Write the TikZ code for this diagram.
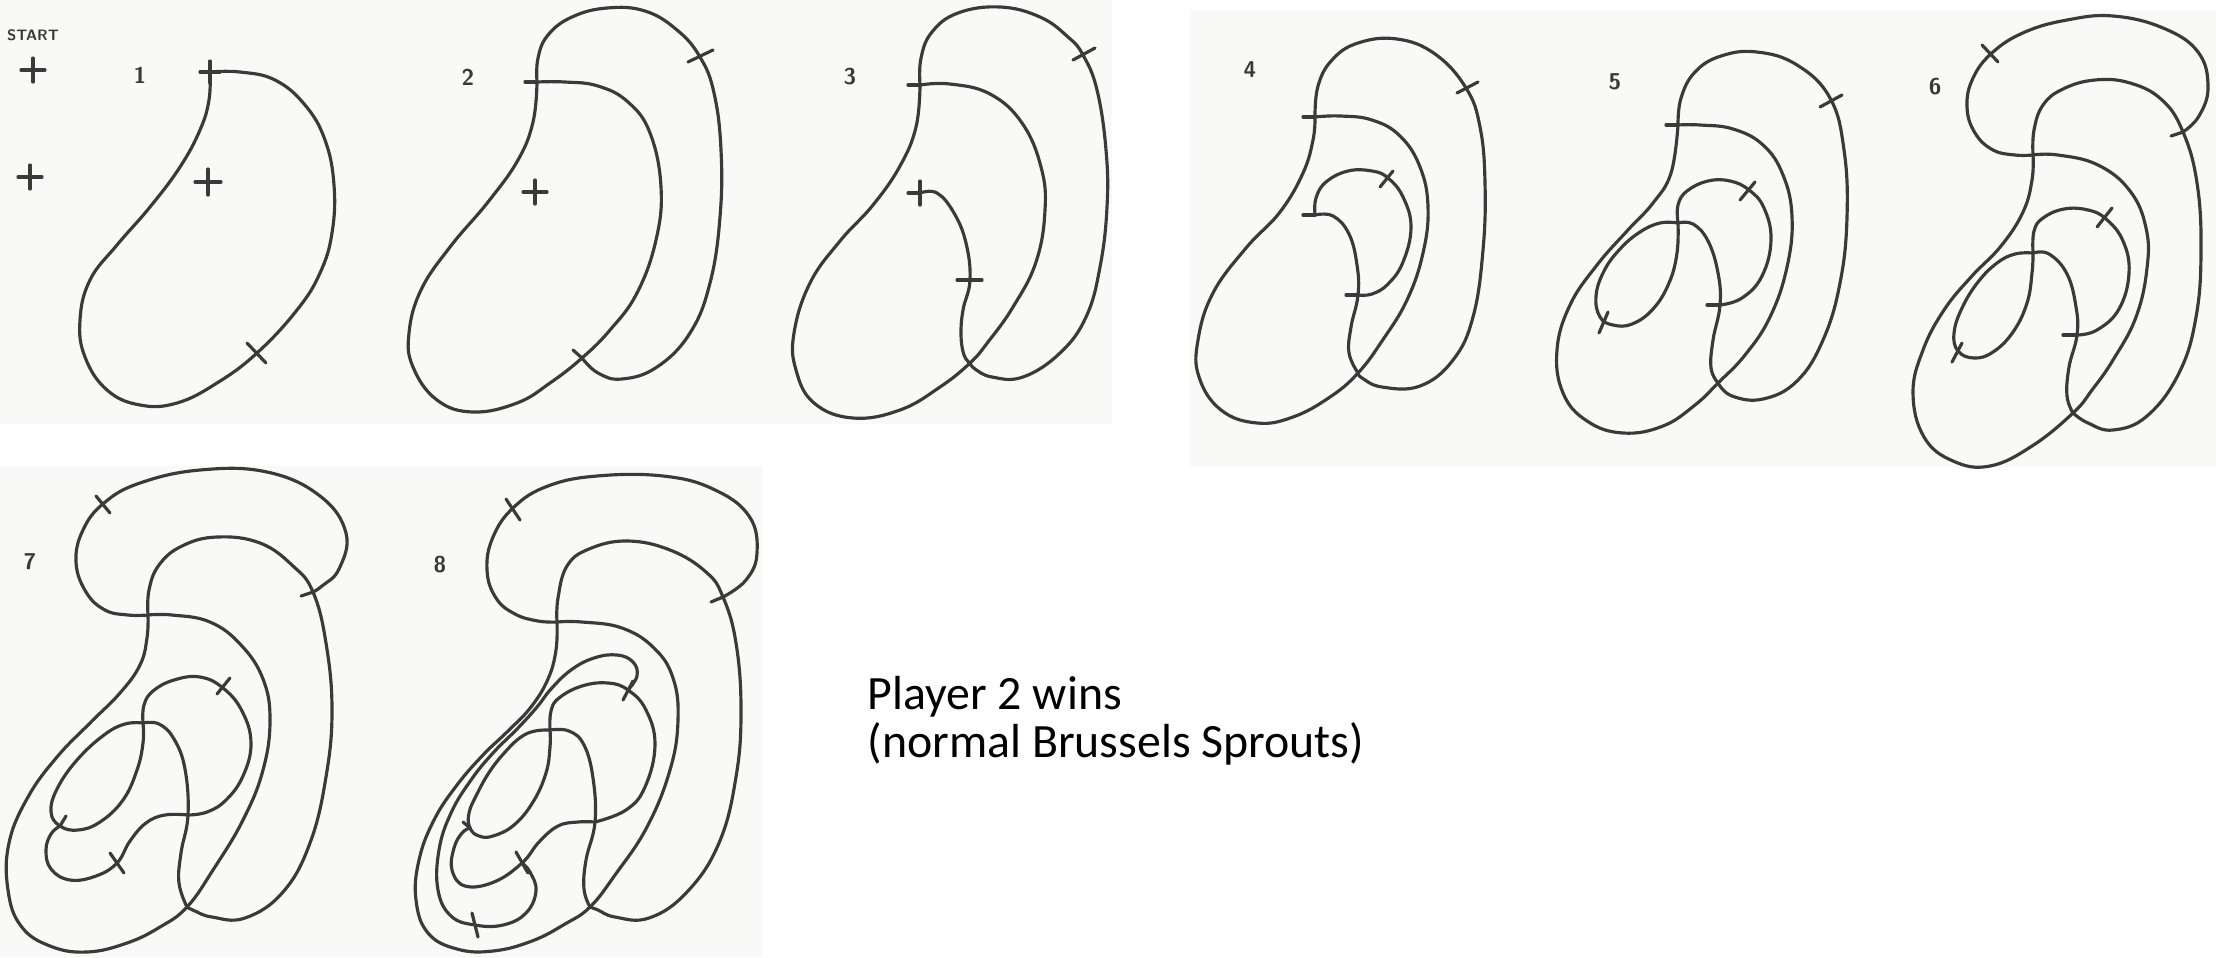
\documentclass[tikz,border=0pt]{standalone}
\usepackage{fontspec}
\setmainfont{Carlito}
\definecolor{ink}{HTML}{3A3A3A}
\definecolor{scan}{HTML}{F9F9F7}
\tikzset{
  pen/.style={ink, line width=0.9pt, line cap=round, line join=round},
  sprout/.style={pen, smooth, tension=0.7},
  num/.style={text=ink, inner sep=0pt, font=\sffamily\bfseries\fontsize{6.5}{7}\selectfont},
}

\begin{document}
\begin{tikzpicture}[x=0.01cm, y=-0.01cm]
  \useasboundingbox (0,0) rectangle (2216,957);
  %scanned sheets
  \fill[scan] (0,0) rectangle (1112,424);
  \fill[scan] (0,466) rectangle (763,957);
  \fill[scan] (1190,10) rectangle (2216,467);

  %start
  \node[num, font=\sffamily\bfseries\fontsize{4.3}{5}\selectfont] (start) at (33,35) {START};
  \draw[pen] (33,70) +(-12,0) -- +(12,0) +(0,-12) -- +(0,12);
  \draw[pen] (30,177) +(-12,0) -- +(12,0) +(0,-12) -- +(0,12);

  %move 1
  \node[num] (n1) at (140,75) {1};
  \draw[pen] (210,72) +(-10,0) -- +(10,0) +(0,-11) -- +(0,11);
  \draw[sprout] plot coordinates {(210,72) (240,72) (275,80) (305,105) (325,140) (334,185) (332,233) (320,273) (297,310) (257,353) (217,383) (177,403) (140,405) (107,390) (85,357) (80,320) (90,280) (117,245) (150,207) (180,167) (200,130) (209,100) (210,72)};
  \draw[pen] (247,343) -- (266,363);
  \draw[pen] (208,182) +(-13,0) -- +(13,0) +(0,-13) -- +(0,13);

  %move 2
  \node[num] (n2) at (468,77) {2};
  \draw[pen] (525,82) -- (537,82);
  \draw[sprout] plot coordinates {(537,82) (565,82) (598,86) (628,102) (650,133) (661,187) (656,240) (637,293) (610,330) (582,358) (550,383) (517,403) (473,412) (437,400) (413,367) (409,333) (421,290) (450,247) (488,202) (518,160) (533,122) (537,82)};
  \draw[sprout] plot coordinates {(537,82) (538,58) (548,35) (572,17) (607,8) (645,11) (677,30) (700,57) (714,93) (721,150) (720,217) (710,283) (690,333) (657,367) (622,379) (598,373) (582,358)};
  \draw[pen] (573,350) -- (582,358);
  \draw[pen] (688,62) -- (713,50);
  \draw[pen] (535,192) +(-12,0) -- +(12,0) +(0,-12) -- +(0,12);

  %move 3
  \node[num] (n3) at (850,77) {3};
  \draw[pen] (908,85) -- (920,85);
  \draw[sprout] plot coordinates {(920,85) (950,84) (990,94) (1022,123) (1041,167) (1045,210) (1036,262) (1013,307) (988,342) (970,363) (940,387) (900,410) (853,418) (814,403) (796,370) (794,333) (810,283) (840,241) (873,205) (900,166) (916,127) (920,85)};
  \draw[sprout] plot coordinates {(920,85) (921,58) (932,32) (958,13) (1000,7) (1040,17) (1068,37) (1083,55) (1097,90) (1106,150) (1107,207) (1100,267) (1086,317) (1060,353) (1023,377) (992,377) (975,369) (970,363)};
  \draw[sprout] plot coordinates {(920,193) (937,193) (954,213) (966,243) (970,280) (963,310) (961,335) (964,355) (970,363)};
  \draw[pen] (920,193) +(-12,0) -- +(0,0) +(0,-12) -- +(0,12);
  \draw[pen] (957,280) -- (982,280);
  \draw[pen] (1073,60) -- (1095,48);

  %move 4
  \node[num] (n4) at (1250,70) {4};
  \draw[pen] (1303,117) -- (1315,117);
  \draw[sprout] plot coordinates {(1315,117) (1340,116) (1372,120) (1400,136) (1420,167) (1428,207) (1423,253) (1407,300) (1382,341) (1358,373) (1330,397) (1293,417) (1257,423) (1221,410) (1199,377) (1198,340) (1213,293) (1246,248) (1280,212) (1303,173) (1313,140) (1315,117)};
  \draw[sprout] plot coordinates {(1315,117) (1318,86) (1332,60) (1358,43) (1397,39) (1435,54) (1466,88) (1480,127) (1485,183) (1483,250) (1473,317) (1453,360) (1420,386) (1382,387) (1362,378) (1358,373)};
  \draw[sprout] plot coordinates {(1315,215) (1333,216) (1349,234) (1357,265) (1358,295) (1351,327) (1349,353) (1358,373)};
  \draw[sprout] plot coordinates {(1315,215) (1316,198) (1326,182) (1348,171) (1372,171) (1388,178) (1403,197) (1411,227) (1403,262) (1388,284) (1372,294) (1358,295)};
  \draw[pen] (1303,215) -- (1315,215);
  \draw[pen] (1346,295) -- (1358,295);
  \draw[pen] (1457,93) -- (1478,82);
  \draw[pen] (1380,187) -- (1393,171);

  %move 5
  \node[num] (n5) at (1615,82) {5};
  \draw[pen] (1666,125) -- (1678,125);
  \draw[sprout] plot coordinates {(1678,125) (1700,125) (1733,129) (1763,145) (1783,175) (1792,217) (1787,267) (1770,317) (1745,355) (1718,383) (1695,405) (1663,426) (1623,433) (1587,421) (1563,393) (1557,350) (1570,305) (1597,265) (1627,231) (1653,203) (1671,173) (1678,125)};
  \draw[sprout] plot coordinates {(1678,125) (1681,98) (1695,72) (1721,56) (1757,52) (1797,65) (1830,98) (1844,150) (1847,217) (1840,283) (1823,340) (1797,381) (1763,399) (1732,396) (1718,383)};
  \draw[sprout] plot coordinates {(1678,223) (1693,224) (1708,241) (1718,273) (1720,305) (1713,340) (1711,368) (1718,383)};
  \draw[sprout] plot coordinates {(1678,223) (1678,205) (1687,191) (1708,181) (1730,181) (1749,190) (1764,208) (1771,240) (1762,276) (1742,298) (1720,305)};
  \draw[sprout] plot coordinates {(1678,223) (1660,223) (1640,232) (1620,249) (1604,271) (1596,296) (1600,317) (1613,325) (1632,324) (1653,309) (1669,283) (1677,253) (1678,223)};
  \draw[pen] (1707,305) -- (1720,305);
  \draw[pen] (1820,107) -- (1842,95);
  \draw[pen] (1740,200) -- (1755,182);
  \draw[pen] (1599,333) -- (1608,312);

  %move 6
  \node[num] (n6) at (1935,87) {6};
  \draw[sprout] plot coordinates {(2033,155) (2015,155) (1993,150) (1975,133) (1967,107) (1973,78) (1993,52) (2025,32) (2067,20) (2113,16) (2163,28) (2198,52) (2208,87) (2199,116) (2183,132)};
  \draw[sprout] plot coordinates {(2033,155) (2058,155) (2098,165) (2130,191) (2146,228) (2147,268) (2136,317) (2113,360) (2092,390) (2073,413) (2032,446) (1990,466) (1953,461) (1924,437) (1913,393) (1923,350) (1944,310) (1971,277) (2001,246) (2023,212) (2032,180) (2033,155)};
  \draw[sprout] plot coordinates {(2033,155) (2034,130) (2043,105) (2063,89) (2095,80) (2130,83) (2162,100) (2183,132) (2197,183) (2201,250) (2196,317) (2179,373) (2147,416) (2113,430) (2088,423) (2073,413)};
  \draw[sprout] plot coordinates {(2033,253) (2049,254) (2067,274) (2076,307) (2077,335) (2069,367) (2067,396) (2073,413)};
  \draw[sprout] plot coordinates {(2033,253) (2034,231) (2043,218) (2064,209) (2088,210) (2106,219) (2123,241) (2129,273) (2119,309) (2097,330) (2077,335)};
  \draw[sprout] plot coordinates {(2033,253) (2015,254) (1997,263) (1978,282) (1962,308) (1954,333) (1958,351) (1974,358) (1993,352) (2013,332) (2027,303) (2032,273) (2033,253)};
  \draw[pen] (2063,335) -- (2077,335);
  \draw[pen] (1982,45) -- (1998,62);
  \draw[pen] (2171,136) -- (2183,132);
  \draw[pen] (2097,227) -- (2112,208);
  \draw[pen] (1952,362) -- (1962,343);

  %move 7
  \node[num] (n7) at (30,562) {7};
  \draw[sprout] plot coordinates {(148,615) (128,615) (105,610) (86,592) (76,562) (83,530) (104,503) (140,483) (200,470) (267,472) (320,496) (346,533) (339,569) (322,586) (313,592)};
  \draw[sprout] plot coordinates {(148,615) (172,615) (210,622) (241,645) (263,679) (270,720) (263,770) (243,820) (213,870) (187,907) (160,927) (127,943) (87,952) (50,946) (21,926) (8,890) (9,843) (28,797) (57,757) (90,723) (120,693) (140,665) (147,638) (148,615)};
  \draw[sprout] plot coordinates {(148,615) (149,590) (159,565) (182,546) (217,537) (260,543) (293,566) (313,592) (326,643) (332,710) (326,777) (310,843) (283,892) (245,918) (212,917) (195,911) (187,907)};
  \draw[sprout] plot coordinates {(143,723) (159,724) (174,739) (185,769) (188,815) (181,853) (179,883) (187,907)};
  \draw[sprout] plot coordinates {(143,723) (144,705) (153,691) (174,680) (200,677) (223,688) (242,711) (251,743) (243,776) (226,800) (207,812) (188,815)};
  \draw[sprout] plot coordinates {(143,723) (125,724) (104,735) (77,760) (57,789) (51,812) (60,826) (78,830) (100,822) (123,800) (137,770) (143,743) (143,723)};
  \draw[sprout] plot coordinates {(188,815) (165,815) (146,823) (130,841) (117,863) (96,876) (70,880) (51,869) (46,850) (51,834) (60,826)};
  \draw[pen] (96,496) -- (110,513);
  \draw[pen] (301,596) -- (313,592);
  \draw[pen] (217,694) -- (230,678);
  \draw[pen] (60,826) -- (66,816);
  \draw[pen] (110,853) -- (124,873);

  %move 8
  \node[num] (n8) at (440,565) {8};
  \draw[sprout] plot coordinates {(557,622) (538,621) (515,614) (496,598) (487,570) (493,537) (514,507) (548,486) (597,476) (663,476) (713,489) (749,516) (757,553) (746,580) (723,597)};
  \draw[sprout] plot coordinates {(557,622) (582,622) (622,628) (654,648) (673,678) (678,720) (670,770) (647,827) (615,875) (590,907) (565,924) (532,941) (493,951) (457,949) (428,933) (416,900) (419,860) (434,820) (457,785) (483,755) (508,731) (531,707) (548,679) (556,650) (557,622)};
  \draw[sprout] plot coordinates {(557,622) (558,598) (567,566) (589,549) (627,541) (670,550) (706,572) (723,597) (736,643) (741,710) (736,777) (719,843) (687,892) (649,918) (615,917) (598,910) (590,907)};
  \draw[sprout] plot coordinates {(550,730) (569,731) (584,745) (593,778) (595,822) (586,860) (584,889) (590,907)};
  \draw[sprout] plot coordinates {(550,730) (551,711) (559,698) (582,686) (608,683) (628,690) (646,710) (655,745) (645,787) (626,810) (595,822)};
  \draw[sprout] plot coordinates {(550,730) (535,731) (521,737) (506,751) (490,771) (477,794) (469,813) (470,828) (479,836) (493,836) (514,825) (533,802) (546,773) (550,747) (550,730)};
  \draw[sprout] plot coordinates {(595,822) (578,822) (558,826) (539,842) (522,863) (494,882) (465,886) (452,870) (454,848) (462,833) (470,828)};
  \draw[sprout] plot coordinates {(628,690) (637,676) (633,662) (617,655) (594,658) (571,670) (551,689) (537,707) (518,728) (493,753) (471,780) (451,813) (439,850) (438,890) (451,916) (475,925) (503,925) (526,913) (536,891) (530,872) (522,863)};
  \draw[pen] (506,499) -- (520,520);
  \draw[pen] (711,602) -- (723,597);
  \draw[pen] (623,700) -- (633,681);
  \draw[pen] (463,822) -- (470,828);
  \draw[pen] (516,852) -- (528,873);
  \draw[pen] (472,913) -- (478,937);

  %result
  \node[anchor=base west, inner sep=0pt, font=\fontsize{13.6}{16}\selectfont] (win) at (867,709) {Player 2 wins};
  \node[anchor=base west, inner sep=0pt, font=\fontsize{13.6}{16}\selectfont] (rule) at (867,757) {(normal Brussels Sprouts)};
\end{tikzpicture}
\end{document}
